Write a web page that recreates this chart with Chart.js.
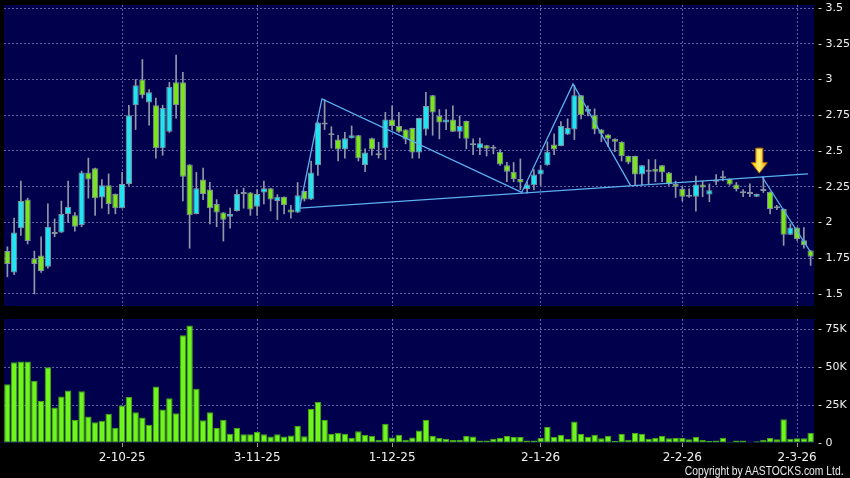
<!DOCTYPE html>
<html>
<head>
<meta charset="utf-8">
<script src="https://cdn.jsdelivr.net/npm/chart.js@4.4.1/dist/chart.umd.min.js"></script>
<style>
  html, body { margin: 0; padding: 0; background: #000; }
  body { width: 850px; height: 478px; position: relative; overflow: hidden; }
  #priceChart { position: absolute; left: 0; top: 0; }
  #volumeChart { position: absolute; left: 0; top: 310px; }
  #copyright {
    position: absolute; right: 6px; top: 464px;
    color: #e8e8e8; font: 12px 'Liberation Sans', sans-serif;
    transform: scaleX(0.86); transform-origin: right center; white-space: nowrap;
  }
</style>
</head>
<body>
<canvas id="priceChart" width="850" height="310"></canvas>
<canvas id="volumeChart" width="850" height="160"></canvas>
<div id="copyright">Copyright by AASTOCKS.com Ltd.</div>
<script>
// daily OHLC
const open = [1.80,1.65,1.96,2.16,1.75,1.77,1.69,1.92,1.93,2.06,
  2.05,1.98,2.35,2.38,2.175,2.26,2.20,2.10,2.27,2.82,
  3.00,2.84,2.82,2.52,2.635,2.98,2.98,2.405,2.06,2.30,
  2.23,2.13,2.07,2.04,2.08,2.20,2.21,2.11,2.21,2.24,
  2.15,2.18,2.09,2.07,2.22,2.16,2.40,2.70,2.61,2.58,
  2.51,2.59,2.61,2.40,2.59,2.47,2.52,2.72,2.675,2.65,
  2.66,2.49,2.65,2.89,2.745,2.70,2.72,2.635,2.71,2.54,
  2.52,2.54,2.515,2.495,2.40,2.355,2.305,2.235,2.26,2.335,
  2.40,2.545,2.535,2.615,2.65,2.89,2.775,2.75,2.65,2.615,
  2.585,2.565,2.465,2.465,2.335,2.355,2.375,2.40,2.35,2.27,
  2.235,2.18,2.18,2.265,2.195,2.285,2.31,2.305,2.265,2.215,
  2.20,2.18,2.22,2.215,2.10,2.095,1.915,1.965,1.875,1.805];
const high = [1.83,2.03,2.29,2.17,1.80,1.90,2.13,2.025,2.15,2.29,
  2.07,2.36,2.45,2.38,2.30,2.34,2.20,2.35,2.82,3.00,
  3.14,2.93,2.87,2.82,2.98,3.17,3.05,2.405,2.35,2.38,
  2.28,2.16,2.07,2.10,2.23,2.24,2.21,2.23,2.29,2.24,
  2.195,2.18,2.12,2.28,2.22,2.43,2.70,2.86,2.67,2.61,
  2.63,2.675,2.61,2.515,2.59,2.56,2.77,2.815,2.77,2.65,
  2.66,2.73,2.91,2.89,2.79,2.79,2.815,2.745,2.71,2.585,
  2.59,2.54,2.54,2.51,2.42,2.42,2.445,2.285,2.37,2.40,
  2.565,2.62,2.705,2.725,2.96,2.89,2.815,2.795,2.65,2.615,
  2.585,2.565,2.465,2.465,2.40,2.44,2.44,2.40,2.35,2.29,
  2.25,2.235,2.325,2.29,2.27,2.335,2.36,2.305,2.28,2.23,
  2.27,2.20,2.32,2.215,2.12,2.095,1.99,1.965,1.965,1.805];
const low = [1.62,1.635,1.91,1.85,1.50,1.65,1.68,1.90,1.93,2.00,
  1.94,1.97,2.17,2.05,2.10,2.06,2.06,2.10,2.26,2.65,
  2.87,2.68,2.45,2.47,2.63,2.73,2.15,1.82,2.06,2.16,
  1.99,1.97,1.87,1.96,2.08,2.10,2.05,2.05,2.13,2.08,
  2.02,2.06,2.03,2.07,2.15,2.16,2.33,2.65,2.52,2.43,
  2.45,2.59,2.43,2.355,2.47,2.45,2.44,2.65,2.63,2.55,
  2.45,2.45,2.61,2.61,2.585,2.65,2.635,2.59,2.515,2.475,
  2.475,2.465,2.48,2.40,2.285,2.285,2.23,2.205,2.23,2.26,
  2.40,2.475,2.535,2.615,2.58,2.725,2.745,2.62,2.565,2.53,
  2.495,2.43,2.41,2.26,2.26,2.27,2.285,2.285,2.26,2.175,
  2.15,2.175,2.08,2.18,2.145,2.265,2.29,2.26,2.22,2.18,
  2.18,2.18,2.21,2.06,2.09,1.84,1.915,1.875,1.82,1.70];
const close = [1.71,1.93,2.15,1.87,1.71,1.66,1.97,1.93,2.06,2.11,
  1.97,2.35,2.30,2.17,2.26,2.13,2.10,2.27,2.75,2.96,
  2.89,2.91,2.52,2.80,2.95,2.82,2.32,2.05,2.24,2.20,
  2.10,2.07,2.02,2.06,2.20,2.21,2.09,2.20,2.24,2.16,
  2.18,2.12,2.07,2.19,2.16,2.35,2.70,2.685,2.61,2.51,
  2.59,2.61,2.45,2.49,2.51,2.47,2.72,2.675,2.635,2.58,
  2.49,2.73,2.815,2.77,2.70,2.72,2.635,2.675,2.585,2.54,
  2.555,2.515,2.515,2.405,2.355,2.305,2.28,2.265,2.335,2.37,
  2.495,2.51,2.675,2.66,2.89,2.75,2.795,2.65,2.62,2.585,
  2.565,2.465,2.42,2.335,2.40,2.355,2.355,2.35,2.27,2.25,
  2.18,2.18,2.265,2.245,2.225,2.295,2.31,2.265,2.235,2.205,
  2.20,2.20,2.22,2.095,2.10,1.915,1.965,1.885,1.84,1.76];
// volume in thousands of shares
const volume = [38.7,53.1,53.6,53.6,40.9,27.8,49.9,23.4,30.6,34.6,
  15.1,34.1,17.5,13.6,14.7,19.2,10.1,24.7,30.2,20.3,
  16.8,12.0,37.2,22.1,29.5,19.5,70.9,77.4,35.7,14.9,
  20.3,9.8,15.3,6.1,9.8,5.7,5.7,7.2,5.7,4.2,
  5.7,4.2,5.0,11.2,4.4,22.3,26.9,15.1,5.9,6.8,
  6.1,3.3,7.7,5.2,4.8,2.2,12.7,3.7,5.5,2.2,
  3.7,8.3,15.1,4.6,3.5,2.8,2.0,2.0,4.6,4.2,
  1.7,1.7,2.8,3.5,4.6,3.9,3.9,1.7,1.7,3.5,
  10.5,3.9,5.2,2.6,14.2,5.9,3.9,5.5,3.1,4.8,
  1.3,5.9,2.2,6.6,5.9,2.8,3.3,4.6,3.1,3.3,
  3.5,2.4,3.9,2.2,1.3,1.7,3.5,0.9,1.7,1.7,
  0.2,1.1,2.2,3.3,2.4,15.7,2.8,3.1,3.1,6.8];

// date labels and the candle each one sits under
const tickDates = ['2-10-25', '3-11-25', '1-12-25', '2-1-26', '2-2-26', '2-3-26'];
const tickIndex = [17, 37, 57, 79, 100, 117];
const priceTicks = [1.5, 1.75, 2, 2.25, 2.5, 2.75, 3, 3.25, 3.5];
const volumeTicks = [0, 25, 50, 75];

// hand drawn pattern lines (x = candle index, y = price)
const necklineX = [43.3, 118.6];
const necklineY = [2.10, 2.34];
const zigzagX = [43.3, 46.6, 76.2, 83.8, 92.3];
const zigzagY = [2.10, 2.864, 2.21, 2.969, 2.26];
const breakX = [111.8, 118.9];
const breakY = [2.32, 1.80];
// yellow breakout arrow
const arrowX = 111.4, arrowTop = 2.52, arrowTip = 2.345;

const labels = open.map((_, i) => {
  const k = tickIndex.indexOf(i);
  return k >= 0 ? tickDates[k] : '';
});

const UP = '#22e4f0', DOWN = '#7ce41e', FLAT = '#a4acb8';
const gridColor = 'rgba(115,125,185,0.8)';
Chart.defaults.font.family = "'DejaVu Sans', sans-serif";
Chart.defaults.font.size = 11;

const bodyColors = open.map((o, i) => close[i] > o ? UP : (close[i] < o ? DOWN : FLAT));

// navy plot area
const plotBg = {
  id: 'plotBg',
  beforeDraw(chart) {
    const {ctx, chartArea: a} = chart;
    ctx.save();
    ctx.fillStyle = '#00004c';
    ctx.fillRect(a.left, a.top, a.right - a.left, a.bottom - a.top);
    ctx.restore();
  }
};

const arrowPlugin = {
  id: 'arrow',
  afterDatasetsDraw(chart) {
    const {ctx, scales} = chart;
    const x = scales.x2.getPixelForValue(arrowX);
    const y0 = scales.y.getPixelForValue(arrowTop);
    const y1 = scales.y.getPixelForValue(arrowTip);
    const yh = y1 - (y1 - y0) * 0.42;
    ctx.save();
    ctx.beginPath();
    ctx.moveTo(x - 3.5, y0);
    ctx.lineTo(x + 3.5, y0);
    ctx.lineTo(x + 3.5, yh);
    ctx.lineTo(x + 8, yh);
    ctx.lineTo(x, y1);
    ctx.lineTo(x - 8, yh);
    ctx.lineTo(x - 3.5, yh);
    ctx.closePath();
    const g = ctx.createLinearGradient(x - 8, 0, x + 8, 0);
    g.addColorStop(0, '#ffc400');
    g.addColorStop(0.5, '#fff170');
    g.addColorStop(1, '#f0a400');
    ctx.fillStyle = g;
    ctx.fill();
    ctx.strokeStyle = '#b86a00';
    ctx.lineWidth = 1;
    ctx.stroke();
    ctx.restore();
  }
};

function trendLine(xs, ys) {
  return {
    type: 'line',
    xAxisID: 'x2',
    data: xs.map((x, i) => ({x: x, y: ys[i]})),
    borderColor: '#5cb0ee',
    borderWidth: 1.3,
    pointRadius: 0,
    fill: false,
    order: 0
  };
}

function keepDateTicks(scale) {
  scale.ticks = scale.ticks.filter(t => tickIndex.includes(t.value));
}

new Chart(document.getElementById('priceChart'), {
  type: 'bar',
  data: {
    labels: labels,
    datasets: [
      trendLine(necklineX, necklineY),
      trendLine(zigzagX, zigzagY),
      trendLine(breakX, breakY),
      {
        data: open.map((o, i) => [o, close[i]]),
        backgroundColor: bodyColors,
        borderColor: '#84919f',
        borderWidth: 1,
        borderSkipped: false,
        barPercentage: 0.92,
        categoryPercentage: 1,
        grouped: false,
        minBarLength: 2,
        order: 1
      },
      {
        data: low.map((l, i) => [l, high[i]]),
        backgroundColor: '#8e98a6',
        barThickness: 1,
        grouped: false,
        order: 2
      }
    ]
  },
  options: {
    responsive: false,
    animation: false,
    layout: {padding: {left: 4, top: 5, right: 0, bottom: 4}},
    plugins: {legend: {display: false}, tooltip: {enabled: false}},
    scales: {
      x: {
        afterBuildTicks: keepDateTicks,
        afterFit: s => { s.height = 0; s.paddingLeft = 0; s.paddingRight = 0; },
        ticks: {display: false, autoSkip: false},
        grid: {color: gridColor, offset: false, drawTicks: false},
        border: {display: false, dash: [2, 2]}
      },
      x2: {
        type: 'linear', min: -0.5, max: open.length - 0.5, offset: false, display: false,
        afterFit: s => { s.paddingLeft = 0; s.paddingRight = 0; }
      },
      y: {
        position: 'right',
        min: 1.416,
        max: 3.521,
        afterBuildTicks: s => { s.ticks = priceTicks.map(v => ({value: v})); },
        afterFit: s => { s.width = 36; s.paddingTop = 0; s.paddingBottom = 0; },
        ticks: {color: '#f0f0f0', padding: 4, callback: v => '- ' + v},
        grid: {color: gridColor, drawTicks: false},
        border: {display: false, dash: [2, 2]}
      }
    }
  },
  plugins: [plotBg, arrowPlugin]
});

new Chart(document.getElementById('volumeChart'), {
  type: 'bar',
  data: {
    labels: labels,
    datasets: [{
      data: volume,
      backgroundColor: '#70f51c',
      borderColor: '#46a516',
      borderWidth: 1,
      borderSkipped: false,
      barPercentage: 0.95,
      categoryPercentage: 1
    }]
  },
  options: {
    responsive: false,
    animation: false,
    layout: {padding: {left: 4, top: 9, right: 0, bottom: 0}},
    plugins: {legend: {display: false}, tooltip: {enabled: false}},
    scales: {
      x: {
        afterBuildTicks: keepDateTicks,
        afterFit: s => { s.height = 27; s.paddingLeft = 0; s.paddingRight = 0; },
        ticks: {color: '#f0f0f0', padding: 4, autoSkip: false, maxRotation: 0, font: {size: 12}},
        grid: {color: gridColor, offset: false, drawTicks: true, tickLength: 4, tickColor: '#9a9a9a'},
        border: {display: false, dash: [2, 2]}
      },
      y: {
        position: 'right',
        min: 0,
        max: 81.6,
        afterBuildTicks: s => { s.ticks = volumeTicks.map(v => ({value: v})); },
        afterFit: s => { s.width = 36; s.paddingTop = 0; s.paddingBottom = 0; },
        ticks: {color: '#f0f0f0', padding: 4, callback: v => '- ' + (v ? v + 'K' : '0')},
        grid: {color: c => c.tick && c.tick.value === 0 ? 'rgba(0,0,0,0)' : gridColor, drawTicks: false},
        border: {display: false, dash: [2, 2]}
      }
    }
  },
  plugins: [plotBg]
});
</script>
</body>
</html>
